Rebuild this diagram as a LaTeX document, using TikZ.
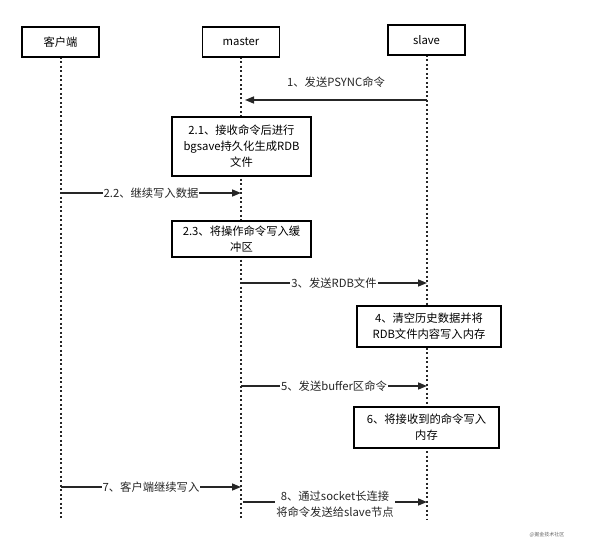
\documentclass[tikz,border=0pt]{standalone}
\usepackage{fontspec}
\setmainfont{Noto Sans CJK SC}
\usetikzlibrary{arrows.meta}
\tikzset{
	actor/.style={draw, fill=white, line width=1.2pt, minimum width=77pt, minimum height=30pt, inner sep=0pt},
	notebox/.style={draw, fill=white, line width=1.2pt, align=center, inner sep=0pt},
	life/.style={line width=2pt, color=black!85, dash pattern=on 2pt off 2.5pt},
	msg/.style={line width=1.5pt, draw=black!85, -{Triangle[length=9pt,width=7pt]}},
	msgtext/.style={fill=white, text=black!85, inner sep=1pt, align=center}
}

\begin{document}
\begin{tikzpicture}[x=1pt, y=-1pt, font=\fontsize{11.3}{16}\selectfont]
			%%%%% START %%%%%
			\useasboundingbox (0, 0) rectangle (593, 548);
			
			\coordinate (kehuEnd) at (60.5, 520);
			\coordinate (masterEnd) at (241, 520);
			\coordinate (slaveEnd) at (427, 520);
			
			\draw[life] (60.5, 57) -- (kehuEnd);
			\draw[life] (241, 57) -- (masterEnd);
			\draw[life] (427, 55) -- (slaveEnd);
			
			\node[actor] (kehu) at (60.5, 42) {客户端};
			\node[actor] (master) at (241, 42) {master};
			\node[actor] (slave) at (426.5, 40) {slave};
			
			\coordinate (s1) at (427, 100);
			\coordinate (m1) at (245, 100);
			\draw[msg] (s1) -- (m1);
			\node[msgtext] (t1) at (336, 82) {1、发送PSYNC命令};
			
			\node[notebox, minimum width=139pt, minimum height=59pt] (bgsave) at (241.5, 146.5) {2.1、接收命令后进行\\bgsave持久化生成RDB\\文件};
			
			\coordinate (k22) at (61, 193);
			\coordinate (m22) at (241, 193);
			\draw[msg] (k22) -- (m22) node[msgtext, midway] (t22) {2.2、继续写入数据};
			
			\node[notebox, minimum width=139pt, minimum height=36pt] (buffer) at (241.5, 239) {2.3、将操作命令写入缓\\冲区};
			
			\coordinate (m3) at (241, 283);
			\coordinate (s3) at (427, 283);
			\draw[msg] (m3) -- (s3) node[msgtext, midway] (t3) {3、发送RDB文件};
			
			\node[notebox, minimum width=144pt, minimum height=41pt] (load) at (429, 326.5) {4、清空历史数据并将\\RDB文件内容写入内存};
			
			\coordinate (m5) at (241, 386);
			\coordinate (s5) at (427, 386);
			\draw[msg] (m5) -- (s5) node[msgtext, midway] (t5) {5、发送buffer区命令};
			
			\node[notebox, minimum width=145pt, minimum height=41pt] (apply) at (426.5, 427.5) {6、将接收到的命令写入\\内存};
			
			\coordinate (k7) at (61, 487);
			\coordinate (m7) at (241, 487);
			\draw[msg] (k7) -- (m7) node[msgtext, midway] (t7) {7、客户端继续写入};
			
			\coordinate (m8) at (243, 502);
			\coordinate (s8) at (427, 502);
			\draw[msg] (m8) -- (s8) node[msgtext, midway, yshift=-2pt] (t8) {8、通过socket长连接\\将命令发送给slave节点};
			
			\node[text=black!60, font=\fontsize{5}{6}\selectfont] (mark) at (547, 535) {@掘金技术社区};
			
			%%%%% END %%%%%
		\end{tikzpicture}
\end{document}
